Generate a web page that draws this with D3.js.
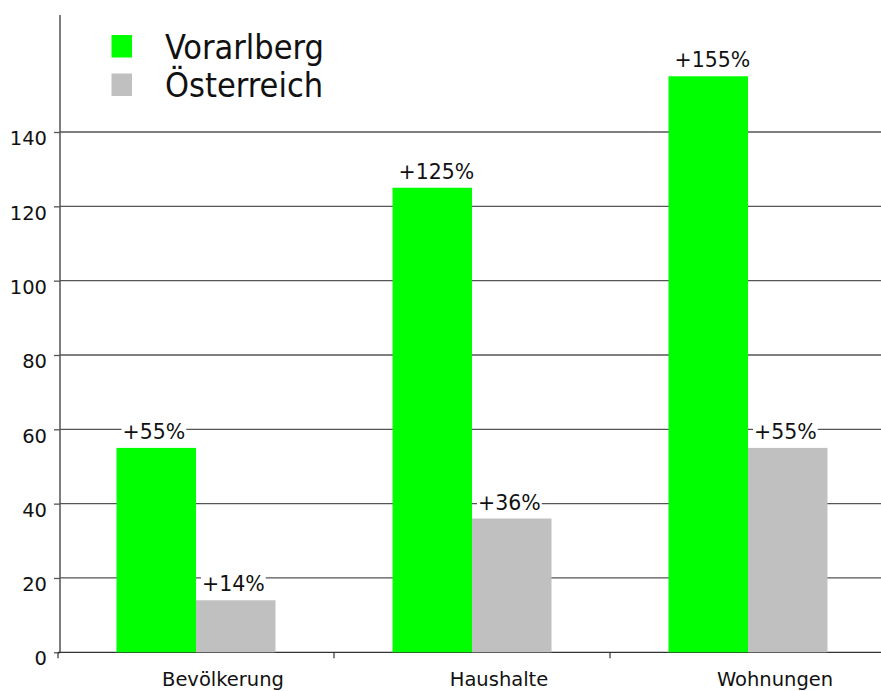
<!DOCTYPE html>
<html>
<head>
<meta charset="utf-8">
<script src="https://cdn.jsdelivr.net/npm/d3@7"></script>
<style>
  body { margin: 0; background: #fff; }
  text { font-family: "DejaVu Sans", Verdana, sans-serif; fill: #111; }
  .legend text { font-family: "DejaVu Sans Condensed", "DejaVu Sans", sans-serif; font-stretch: condensed; }
</style>
</head>
<body>
<div id="viz"></div>
<script>
// data
var categories = ["Bevölkerung", "Haushalte", "Wohnungen"];
var seriesNames = ["Vorarlberg", "Österreich"];
var vorarlberg = [55, 125, 155];
var oesterreich = [14, 36, 55];
var valueLabels = [["+55%", "+125%", "+155%"], ["+14%", "+36%", "+55%"]];
var yTicks = [0, 20, 40, 60, 80, 100, 120, 140];
var colors = ["#00ff00", "#c0c0c0"];

var width = 881, height = 691;

var svg = d3.select("#viz")
  .append("svg")
  .attr("width", width)
  .attr("height", height);

// scales
var x0 = d3.scaleBand()
  .domain(categories)
  .range([58, 886])
  .padding(0);

var x1 = d3.scaleBand()
  .domain(seriesNames)
  .range([0, x0.bandwidth()])
  .paddingInner(0)
  .paddingOuter(0.736);

var y = d3.scaleLinear()
  .domain([0, 140])
  .range([652.3, 132]);

// grid lines
svg.append("g")
  .selectAll("line")
  .data(yTicks.filter(function(d) { return d > 0; }))
  .enter().append("line")
  .attr("x1", 60)
  .attr("x2", width)
  .attr("y1", function(d) { return y(d); })
  .attr("y2", function(d) { return y(d); })
  .attr("stroke", "#555")
  .attr("stroke-width", 1.3);

// y axis
var yAxis = svg.append("g")
  .attr("transform", "translate(60,0)")
  .call(d3.axisLeft(y).tickValues(yTicks).tickSize(6).tickSizeOuter(0).tickFormat(d3.format("d")));
yAxis.select(".domain").remove();
yAxis.selectAll(".tick line").attr("stroke", "#555").attr("stroke-width", 1.3);
yAxis.selectAll(".tick text")
  .attr("x", -13)
  .attr("dy", "0.65em")
  .style("font-size", "19.5px")
  .style("font-family", "'DejaVu Sans', Verdana, sans-serif")
  .attr("fill", "#111");

svg.append("line")
  .attr("x1", 60).attr("x2", 60)
  .attr("y1", 15).attr("y2", 652)
  .attr("stroke", "#555")
  .attr("stroke-width", 1.5);

// x axis
svg.append("line")
  .attr("x1", 58).attr("x2", width)
  .attr("y1", y(0)).attr("y2", y(0))
  .attr("stroke", "#333")
  .attr("stroke-width", 1.3);

svg.append("g")
  .selectAll("line")
  .data(categories)
  .enter().append("line")
  .attr("x1", function(d) { return x0(d); })
  .attr("x2", function(d) { return x0(d); })
  .attr("y1", y(0))
  .attr("y2", y(0) + 6)
  .attr("stroke", "#333")
  .attr("stroke-width", 1.2);

svg.append("g")
  .selectAll("text")
  .data(categories)
  .enter().append("text")
  .attr("x", function(d) { return x0(d) + x0.bandwidth() / 2 + 27; })
  .attr("y", 686)
  .attr("text-anchor", "middle")
  .style("font-size", "19.5px")
  .text(function(d) { return d; });

// bars
var allValues = [vorarlberg, oesterreich];
var bars = [];
seriesNames.forEach(function(s, si) {
  categories.forEach(function(c, ci) {
    bars.push({ series: s, si: si, category: c, value: allValues[si][ci], label: valueLabels[si][ci] });
  });
});

svg.append("g")
  .selectAll("rect")
  .data(bars)
  .enter().append("rect")
  .attr("x", function(d) { return x0(d.category) + x1(d.series); })
  .attr("y", function(d) { return y(d.value); })
  .attr("width", x1.bandwidth())
  .attr("height", function(d) { return y(0) - y(d.value); })
  .attr("fill", function(d) { return colors[d.si]; });

// value labels with white background
var labels = svg.append("g")
  .selectAll("g")
  .data(bars)
  .enter().append("g");

labels.append("rect").attr("fill", "#fff");

labels.append("text")
  .attr("x", function(d) { return x0(d.category) + x1(d.series) + 6; })
  .attr("y", function(d) { return y(d.value) - 9; })
  .style("font-size", "20.5px")
  .text(function(d) { return d.label; });

labels.each(function() {
  var g = d3.select(this);
  var bb = g.select("text").node().getBBox();
  g.select("rect")
    .attr("x", bb.x - 1)
    .attr("y", bb.y + 2)
    .attr("width", bb.width + 2)
    .attr("height", bb.height - 4);
});

// legend
var legend = svg.append("g").attr("class", "legend");
legend.selectAll("rect")
  .data(seriesNames)
  .enter().append("rect")
  .attr("x", 111.5)
  .attr("y", function(d, i) { return 35 + i * 38.5; })
  .attr("width", 20.5)
  .attr("height", 22.5)
  .attr("fill", function(d, i) { return colors[i]; });

legend.selectAll("text")
  .data(seriesNames)
  .enter().append("text")
  .attr("x", 165)
  .attr("y", function(d, i) { return 59 + i * 38; })
  .style("font-size", "34px")
  .text(function(d) { return d; });
</script>
</body>
</html>
